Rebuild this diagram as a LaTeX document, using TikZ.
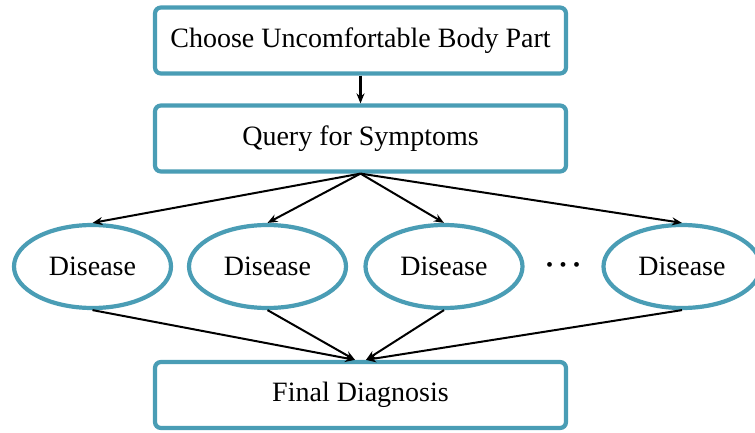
\documentclass[tikz,border=0pt]{standalone}
\usepackage{amsmath}
\usepackage{fontspec}
\setmainfont{Liberation Serif}
\usetikzlibrary{shapes.geometric,shadows,arrows.meta}
\definecolor{boxblue}{RGB}{74,157,181}

\begin{document}
\begin{tikzpicture}[x=1pt, y=-1pt, >={Stealth[length=10pt,width=8pt]},
		box_style/.style={rectangle,draw=boxblue,line width=4.2pt,rounded corners=6pt,fill=white,
			minimum width=411pt,minimum height=66pt,font=\fontsize{28}{32}\selectfont,
			drop shadow={shadow xshift=1.5pt,shadow yshift=-1.5pt,opacity=0.25}},
		ell_style/.style={ellipse,draw=boxblue,line width=4.2pt,fill=white,
			minimum width=157pt,minimum height=83pt,font=\fontsize{28}{32}\selectfont,
			drop shadow={shadow xshift=1.5pt,shadow yshift=-1.5pt,opacity=0.25}},
		edge_style/.style={draw=black,line width=2pt,->}]
		
		\useasboundingbox (0,0) rectangle (755,433);
		
		\node[box_style] (body) at (360.5,40.5)  {Choose Uncomfortable Body Part};
		\node[box_style] (query) at (360.5,138.5)  {Query for Symptoms};
		\node[ell_style] (d1) at (92.5,266.5)  {Disease};
		\node[ell_style] (d2) at (267.5,266.5)  {Disease};
		\node[ell_style] (d3) at (444,266.5)  {Disease};
		\node (dots) at (563,267)  {\fontsize{20}{24}\selectfont\textbullet\hspace{6.5pt}\textbullet\hspace{6.5pt}\textbullet};
		\node[ell_style] (d4) at (682,266.5)  {Disease};
		\node[box_style] (final) at (360.5,395)  {Final Diagnosis};
		
		\draw[edge_style,line width=3pt]  (body) -- (query);
		\draw[edge_style]  (query.south) -- (d1.north);
		\draw[edge_style]  (query.south) -- (d2.north);
		\draw[edge_style]  (query.south) -- (d3.north);
		\draw[edge_style]  (query.south) -- (d4.north);
		\draw[edge_style]  (d1.south) -- ([xshift=-5.5pt]final.north);
		\draw[edge_style]  (d2.south) -- ([xshift=-5.5pt]final.north);
		\draw[edge_style]  (d3.south) -- ([xshift=5.5pt]final.north);
		\draw[edge_style]  (d4.south) -- ([xshift=5.5pt]final.north);
		
\end{tikzpicture}
\end{document}
